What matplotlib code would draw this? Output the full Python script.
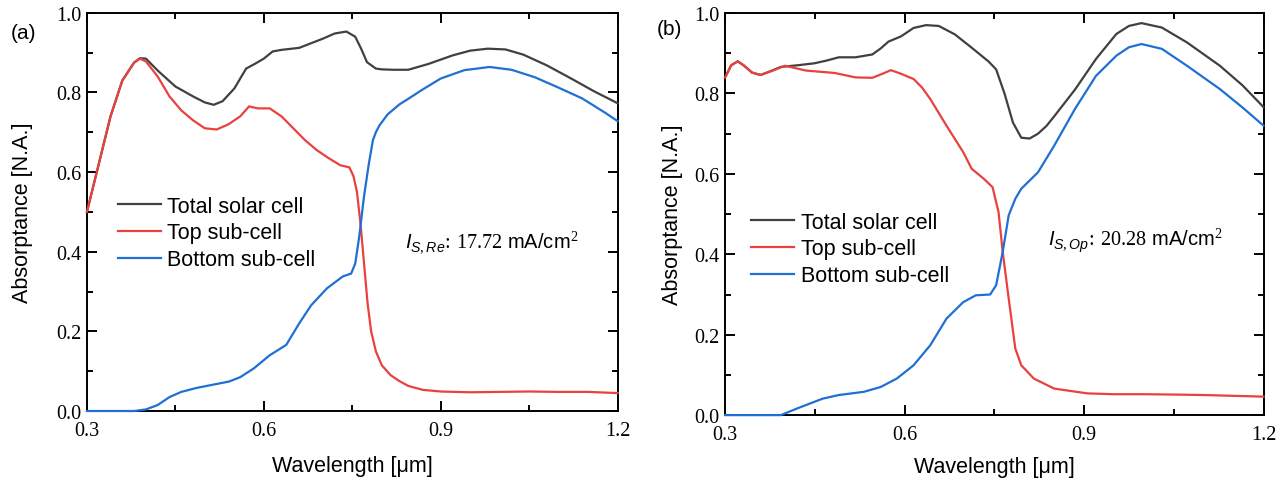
import numpy as np
import matplotlib
matplotlib.use("Agg")
import matplotlib.pyplot as plt
from matplotlib.ticker import MultipleLocator

plt.rcParams['font.family'] = ['Liberation Serif', 'DejaVu Serif']
plt.rcParams['mathtext.fontset'] = 'custom'
plt.rcParams['mathtext.rm'] = 'Liberation Serif'
plt.rcParams['mathtext.it'] = 'Liberation Sans:italic'
plt.rcParams['mathtext.sf'] = 'Liberation Sans'

# ---- panel (a): reference design ----
a_tot_x = [0.30, 0.32, 0.34, 0.36, 0.38, 0.39, 0.40, 0.42, 0.45, 0.48, 0.50, 0.515, 0.53, 0.55,
           0.57, 0.585, 0.60, 0.615, 0.63, 0.66, 0.70, 0.72, 0.74, 0.755, 0.765, 0.775, 0.79,
           0.80, 0.82, 0.845, 0.88, 0.92, 0.95, 0.98, 1.01, 1.04, 1.08, 1.12, 1.16, 1.20]
a_tot_y = [0.50, 0.62, 0.74, 0.83, 0.875, 0.886, 0.885, 0.855, 0.815, 0.79, 0.775, 0.769, 0.778, 0.81,
           0.86, 0.872, 0.885, 0.903, 0.907, 0.912, 0.935, 0.948, 0.953, 0.94, 0.91, 0.876, 0.86,
           0.858, 0.857, 0.857, 0.872, 0.893, 0.905, 0.91, 0.908, 0.895, 0.868, 0.836, 0.803, 0.773]

a_top_x = [0.30, 0.32, 0.34, 0.36, 0.38, 0.39, 0.40, 0.42, 0.44, 0.46, 0.48, 0.50, 0.52, 0.54,
           0.56, 0.575, 0.59, 0.61, 0.63, 0.65, 0.67, 0.69, 0.71, 0.73, 0.745, 0.752, 0.758,
           0.764, 0.770, 0.776, 0.782, 0.79, 0.80, 0.815, 0.83, 0.845, 0.87, 0.90, 0.95, 1.00,
           1.05, 1.10, 1.15, 1.20]
a_top_y = [0.50, 0.62, 0.74, 0.83, 0.875, 0.885, 0.878, 0.84, 0.79, 0.755, 0.73, 0.71, 0.707, 0.72,
           0.74, 0.765, 0.76, 0.76, 0.74, 0.71, 0.68, 0.655, 0.635, 0.617, 0.612, 0.59, 0.55,
           0.47, 0.37, 0.27, 0.20, 0.15, 0.115, 0.09, 0.075, 0.063, 0.053, 0.049, 0.047, 0.048,
           0.049, 0.048, 0.048, 0.045]

a_bot_x = [0.30, 0.34, 0.38, 0.40, 0.42, 0.44, 0.46, 0.486, 0.51, 0.541, 0.56, 0.583, 0.61,
           0.638, 0.66, 0.68, 0.707, 0.734, 0.748, 0.755, 0.762, 0.770, 0.778, 0.785, 0.79,
           0.796, 0.81, 0.83, 0.845, 0.87, 0.90, 0.94, 0.983, 1.02, 1.06, 1.10, 1.14, 1.18, 1.20]
a_bot_y = [0.0, 0.0, 0.0, 0.004, 0.015, 0.035, 0.048, 0.058, 0.065, 0.074, 0.085, 0.107, 0.14,
           0.166, 0.22, 0.265, 0.308, 0.338, 0.345, 0.37, 0.44, 0.54, 0.62, 0.68, 0.70,
           0.717, 0.745, 0.77, 0.784, 0.808, 0.835, 0.856, 0.864, 0.857, 0.838, 0.812, 0.785, 0.748, 0.728]

# ---- panel (b): optimized design ----
b_tot_x = [0.30, 0.31, 0.321, 0.331, 0.345, 0.359, 0.37, 0.38, 0.393, 0.42, 0.449, 0.47, 0.49,
           0.518, 0.546, 0.56, 0.573, 0.594, 0.615, 0.636, 0.657, 0.684, 0.712, 0.74, 0.753,
           0.767, 0.781, 0.795, 0.809, 0.823, 0.837, 0.85, 0.885, 0.92, 0.954, 0.975, 0.996,
           1.03, 1.072, 1.127, 1.165, 1.20]
b_tot_y = [0.84, 0.87, 0.88, 0.87, 0.852, 0.846, 0.852, 0.858, 0.866, 0.87, 0.875, 0.882, 0.89,
           0.89, 0.897, 0.912, 0.929, 0.942, 0.963, 0.97, 0.968, 0.947, 0.914, 0.88, 0.86,
           0.80, 0.728, 0.69, 0.688, 0.70, 0.719, 0.743, 0.81, 0.886, 0.948, 0.968, 0.975,
           0.964, 0.927, 0.869, 0.82, 0.766]

b_top_x = [0.30, 0.31, 0.321, 0.331, 0.345, 0.359, 0.38, 0.40, 0.435, 0.483, 0.518, 0.546, 0.563,
           0.577, 0.594, 0.615, 0.629, 0.643, 0.67, 0.698, 0.712, 0.733, 0.747, 0.757, 0.764,
           0.774, 0.785, 0.795, 0.816, 0.85, 0.906, 0.95, 1.00, 1.058, 1.10, 1.15, 1.20]
b_top_y = [0.84, 0.87, 0.88, 0.87, 0.852, 0.846, 0.857, 0.869, 0.857, 0.851, 0.84, 0.839, 0.849,
           0.858, 0.849, 0.836, 0.815, 0.786, 0.72, 0.654, 0.613, 0.587, 0.567, 0.505, 0.406,
           0.29, 0.166, 0.124, 0.091, 0.066, 0.054, 0.052, 0.052, 0.051, 0.05, 0.048, 0.046]

b_bot_x = [0.30, 0.35, 0.393, 0.421, 0.463, 0.49, 0.532, 0.56, 0.587, 0.615, 0.643, 0.67,
           0.698, 0.719, 0.743, 0.753, 0.764, 0.774, 0.785, 0.795, 0.823, 0.85, 0.885, 0.92,
           0.954, 0.975, 0.996, 1.03, 1.072, 1.127, 1.165, 1.20]
b_bot_y = [0.0, 0.0, 0.0, 0.017, 0.041, 0.05, 0.058, 0.07, 0.091, 0.124, 0.174, 0.24,
           0.281, 0.298, 0.30, 0.323, 0.406, 0.497, 0.538, 0.563, 0.604, 0.67, 0.762, 0.844,
           0.894, 0.915, 0.923, 0.911, 0.869, 0.811, 0.765, 0.72]

labels = ['Total solar cell', 'Top sub-cell', 'Bottom sub-cell']
colors = ['#404040', '#e8413f', '#1f6fd4']

panels = [
    ('(a)', [a_tot_x, a_top_x, a_bot_x], [a_tot_y, a_top_y, a_bot_y],
     r'$\mathit{I}_{\mathit{S,Re}}\!:\!\ \mathrm{17.72}\ \mathsf{mA/cm}^{\mathrm{2}}$'),
    ('(b)', [b_tot_x, b_top_x, b_bot_x], [b_tot_y, b_top_y, b_bot_y],
     r'$\mathit{I}_{\mathit{S,Op}}\!:\!\ \mathrm{20.28}\ \mathsf{mA/cm}^{\mathrm{2}}$'),
]
rects = [[0.0675, 0.1505, 0.412, 0.821], [0.563, 0.142, 0.418, 0.829]]
leg_anchor = [(0.058, 0.541), (0.048, 0.506)]
txt_pos = [(0.839, 0.425), (0.840, 0.436)]
ylab_x = [-0.122, -0.0985]
xlab_y = [-0.138, -0.127]
tag_pos = [(0.008, 0.930), (0.510, 0.940)]

fig = plt.figure(figsize=(12.88, 4.85), dpi=100)
for i, (tag, xs, ys, note) in enumerate(panels):
    ax = fig.add_axes(rects[i])
    for x, y, lab, c in zip(xs, ys, labels, colors):
        ax.plot(x, y, color=c, lw=1.6, label=lab, clip_on=False, zorder=3)
    ax.set_xlim(0.3, 1.2)
    ax.set_ylim(0.0, 1.0)
    ax.xaxis.set_major_locator(MultipleLocator(0.3))
    ax.xaxis.set_minor_locator(MultipleLocator(0.15))
    ax.yaxis.set_major_locator(MultipleLocator(0.2))
    ax.yaxis.set_minor_locator(MultipleLocator(0.1))
    ax.tick_params(which='both', direction='in', top=True, right=True, width=1.4, labelsize=14.5)
    ax.tick_params(which='major', length=7)
    ax.tick_params(which='minor', length=4)
    ax.xaxis.set_major_formatter(plt.FuncFormatter(lambda v, p: f'{v:.1f}'))
    ax.yaxis.set_major_formatter(plt.FuncFormatter(lambda v, p: f'{v:.1f}'))
    ax.tick_params(axis='x', pad=7)
    ax.tick_params(axis='y', pad=4)
    for s in ax.spines.values():
        s.set_linewidth(1.4)
    ax.set_xlabel('Wavelength [μm]', family='Liberation Sans', fontsize=15.5)
    ax.set_ylabel('Absorptance [N.A.]', family='Liberation Sans', fontsize=15.5)
    ax.xaxis.set_label_coords(0.5, xlab_y[i])
    ax.yaxis.set_label_coords(ylab_x[i], 0.5)
    ax.xaxis.label.set_va('center')
    ax.yaxis.label.set_va('center')
    ax.legend(loc='upper left', bbox_to_anchor=leg_anchor[i], frameon=False,
              prop={'family': 'Liberation Sans', 'size': 15.5}, handlelength=2.0,
              handletextpad=0.3, labelspacing=0.27, borderpad=0, borderaxespad=0)
    ax.text(txt_pos[i][0], txt_pos[i][1], note, fontsize=14.5, va='center', ha='left')
    fig.text(tag_pos[i][0], tag_pos[i][1], tag, family='Liberation Sans', fontsize=15,
             va='center', ha='left')

fig.savefig('out.png', dpi=100)
